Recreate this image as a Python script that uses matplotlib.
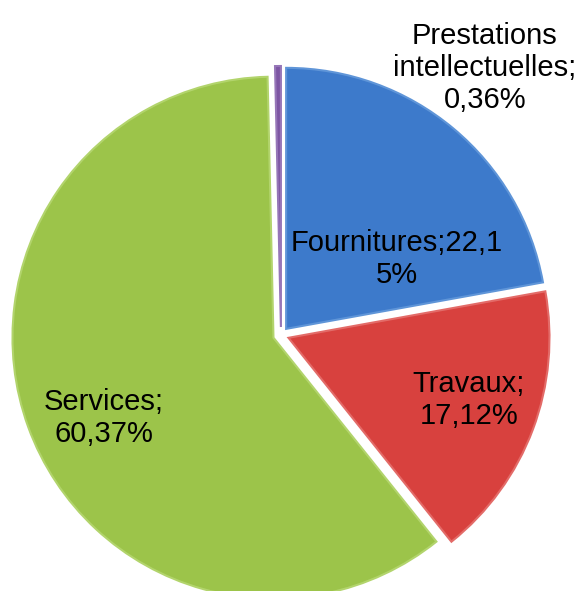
import matplotlib.pyplot as plt

# DATA
categories = ['Fournitures', 'Travaux', 'Services', 'Prestations intellectuelles']
shares = [22.15, 17.12, 60.37, 0.36]
label_texts = ['Fournitures;22,1\n5%', 'Travaux;\n17,12%', 'Services;\n60,37%',
               'Prestations\nintellectuelles;\n0,36%']
colors = ['#3d7acb', '#d8413e', '#9cc44a', '#7d55a3']
rim_colors = ['#5f95d8', '#e36b68', '#b2d46c', '#9676b8']

plt.rcParams['font.family'] = ['Liberation Sans', 'DejaVu Sans']

W, H = 578, 591
fig = plt.figure(figsize=(W / 100, H / 100), dpi=100)
ax = fig.add_axes([0, 0, 1, 1])

radius = 261
cx, cy = 281, H - 335

# explode is in data units (pixels here)
wedges, _ = ax.pie(
    shares,
    colors=colors,
    startangle=90,
    counterclock=False,
    explode=[8] * len(shares),
    radius=radius,
    center=(cx, cy),
    wedgeprops=dict(linewidth=1.5),
)
for w, ec in zip(wedges, rim_colors):
    w.set_edgecolor(ec)

ax.set_xlim(0, W)
ax.set_ylim(0, H)
ax.set_aspect('equal')
ax.axis('off')

# LABELS (pixel positions from top-left)
label_pos = [(397, 259), (469, 400), (104, 418), (485, 68)]
for txt, (x, y) in zip(label_texts, label_pos):
    ax.text(x, H - y, txt, ha='center', va='center', fontsize=21,
            multialignment='center', linespacing=1.2, color='black')

fig.savefig('out.png', dpi=100)
